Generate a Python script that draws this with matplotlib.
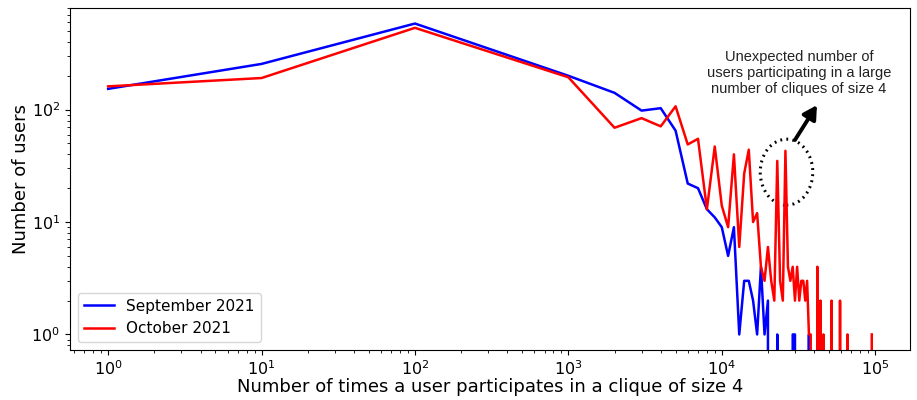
import numpy as np
import matplotlib
matplotlib.use("Agg")
import matplotlib.pyplot as plt
from matplotlib.patches import Ellipse

# clique-of-size-4 participation counts: bins 1, 10, 100, 1000, then every 1000 up to 95k
k_bins = [1, 10, 100, 1000,
          2000, 3000, 4000, 5000, 6000, 7000, 8000, 9000, 10000,
          11000, 12000, 13000, 14000, 15000, 16000, 17000, 18000, 19000, 20000,
          21000, 22000, 23000, 24000, 25000, 26000, 27000, 28000, 29000, 30000,
          31000, 32000, 33000, 34000, 35000, 36000, 37000, 38000, 39000, 40000,
          41000, 42000, 43000, 44000, 45000, 46000, 47000, 48000, 49000, 50000,
          51000, 52000, 53000, 54000, 55000, 56000, 57000, 58000, 59000, 60000,
          61000, 62000, 63000, 64000, 65000, 66000, 67000, 68000, 69000, 70000,
          71000, 72000, 73000, 74000, 75000, 76000, 77000, 78000, 79000, 80000,
          81000, 82000, 83000, 84000, 85000, 86000, 87000, 88000, 89000, 90000,
          91000, 92000, 93000, 94000, 95000]

users_sep = [153, 255, 583, 200,
             141, 98, 103, 65, 22, 20, 13, 11, 9,
             5, 9, 1, 3, 3, 2, 1, 4, 1, 2,
             0, 0, 1, 0, 0, 0, 0, 0, 1, 1,
             0, 0, 0, 0, 0, 0, 1, 0, 0, 0,
             0, 0, 0, 0, 0, 0, 0, 0, 0, 0,
             0, 0, 0, 0, 0, 0, 0, 0, 0, 0,
             0, 0, 0, 0, 0, 0, 0, 0, 0, 0,
             0, 0, 0, 0, 0, 0, 0, 0, 0, 0,
             0, 0, 0, 0, 0, 0, 0, 0, 0, 0,
             0, 0, 0, 0, 0]

users_oct = [161, 191, 534, 194,
             69, 84, 71, 107, 49, 55, 13, 47, 14,
             9, 40, 6, 27, 44, 10, 12, 4, 3, 6,
             3, 2, 35, 3, 2, 43, 4, 3, 4, 2,
             4, 2, 3, 3, 2, 3, 1, 1, 0, 0,
             0, 4, 0, 2, 0, 1, 0, 0, 0, 0,
             0, 2, 0, 0, 0, 0, 0, 0, 2, 0,
             0, 0, 0, 0, 0, 1, 0, 0, 0, 0,
             0, 0, 0, 0, 0, 0, 0, 0, 0, 0,
             0, 0, 0, 0, 0, 0, 0, 0, 0, 0,
             0, 0, 0, 0, 1]

note = "Unexpected number of\nusers participating in a large\nnumber of cliques of size 4"

fig = plt.figure(figsize=(9.17, 4.0), dpi=100)
ax = fig.add_axes([0.0763, 0.125, 0.916, 0.855])

ax.plot(k_bins, users_sep, color="blue", lw=1.8, label="September 2021")
ax.plot(k_bins, users_oct, color="red", lw=1.8, label="October 2021")
ax.set_xscale("log")
ax.set_yscale("log")

ax.set_xlabel("Number of times a user participates in a clique of size 4",
              fontsize=13, labelpad=0)
ax.set_ylabel("Number of users", fontsize=13, labelpad=1)
ax.tick_params(labelsize=11.5)
ax.legend(loc="lower left", fontsize=11)

# dotted ring around the late spikes, arrow out to the note
ax.add_patch(Ellipse((0.853, 0.520), 0.0625, 0.193, transform=ax.transAxes,
                     fill=False, ec="black", lw=2.2, ls=(0, (0.6, 1.4))))
ax.annotate("", xy=(0.8893, 0.716), xytext=(0.8631, 0.614),
            xycoords="axes fraction", textcoords="axes fraction",
            arrowprops=dict(arrowstyle="-|>,head_length=0.8,head_width=0.45",
                            color="black", lw=2.8, shrinkA=0, shrinkB=0))
ax.text(0.868, 0.810, note, transform=ax.transAxes, ha="center", va="center",
        fontsize=10.5, family="Liberation Sans", color="#222222", linespacing=1.15)

fig.savefig("out.png", dpi=100)
